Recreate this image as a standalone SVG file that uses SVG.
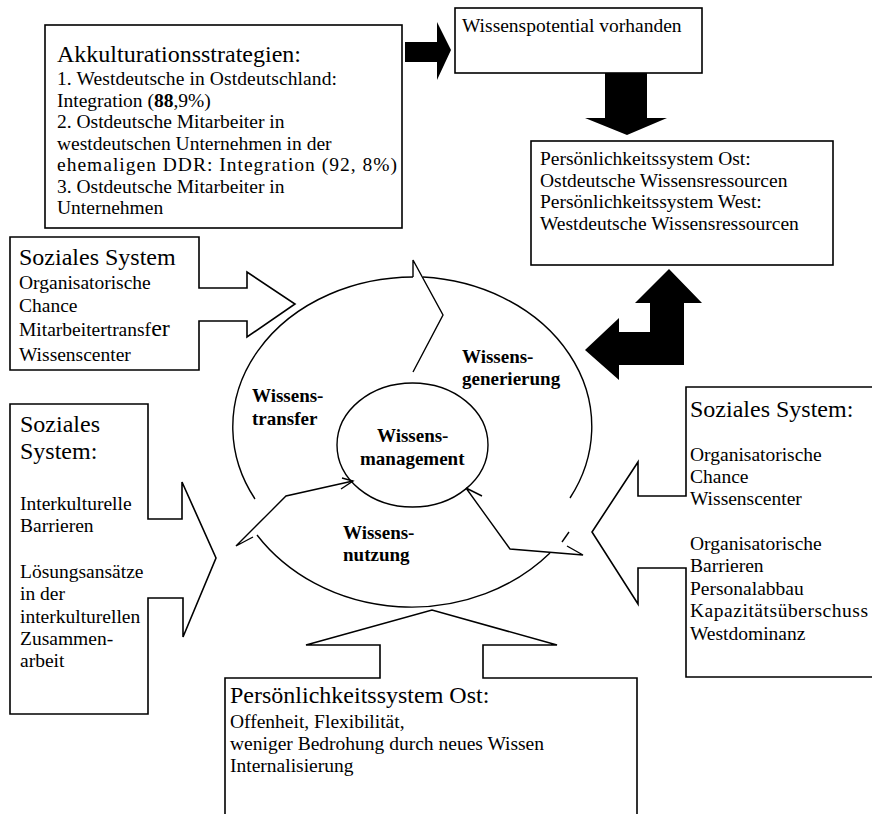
<svg xmlns="http://www.w3.org/2000/svg" width="872" height="814" viewBox="0 0 872 814">
<style>
.bx{fill:#fff;stroke:#000;stroke-width:1.6}
.ln{fill:none;stroke:#000;stroke-width:1.4;stroke-linejoin:miter}
.blk{fill:#000;stroke:none}
text{font-family:"Liberation Serif","Times New Roman",serif;fill:#000}
.t{font-size:19.5px}
.h{font-size:24px}
.b{font-size:19px;font-weight:bold}
</style>
<rect width="872" height="814" fill="#fff"/>
<g id="connectors">
  <polygon class="blk" points="405,42 437,42 437,22 451,50 437,80 437,62 405,62"/>
  <polygon class="blk" points="605,73 647,73 647,118 667,118 627,135 585,118 605,118"/>
  <polygon class="blk" points="669,269 702,303 684,303 684,365 619,365 619,380 585,350 619,318 619,332 650,332 650,303 635,303"/>
  <path class="ln" d="M255,499 A181,150 0 0 1 413,277"/>
  <polyline class="ln" points="413,277 413,260 443,315 413,372"/>
  <path class="ln" d="M423,277 A181,150 0 0 1 570,498"/>
  <path class="ln" d="M257,535 A187,165 0 0 0 550,553"/>
  <polyline class="ln" points="353,481 286,496 236,546 253,537"/>
  <polyline class="ln" points="341,489 353,481 342,478"/>
  <polyline class="ln" points="482,496 466,488 510,549 583,555 567,546"/>
  <line class="ln" x1="562" y1="542" x2="569" y2="532"/>
</g>
<g id="akkulturation">
  <rect class="bx" x="45" y="25" width="357" height="203"/>
  <text class="h" x="57" y="62">Akkulturationsstrategien:</text>
  <text class="t" x="57" y="85" textLength="280" lengthAdjust="spacing">1. Westdeutsche in Ostdeutschland:</text>
  <text class="t" x="57" y="106.5">Integration (<tspan font-weight="bold">88</tspan>,9%)</text>
  <text class="t" x="57" y="128">2. Ostdeutsche Mitarbeiter in</text>
  <text class="t" x="57" y="149.5">westdeutschen Unternehmen in der</text>
  <text class="t" x="57" y="171" textLength="340" lengthAdjust="spacing">ehemaligen DDR: Integration (92, 8%)</text>
  <text class="t" x="57" y="192.5">3. Ostdeutsche Mitarbeiter in</text>
  <text class="t" x="57" y="214">Unternehmen</text>
</g>
<g id="wissenspotential">
  <rect class="bx" x="455" y="8" width="247" height="65"/>
  <text class="t" x="462" y="32">Wissenspotential vorhanden</text>
</g>
<g id="persoenlichkeit-ost-west">
  <rect class="bx" x="531" y="141" width="302" height="124"/>
  <text class="t" x="540" y="165">Persönlichkeitssystem Ost:</text>
  <text class="t" x="540" y="186.5">Ostdeutsche Wissensressourcen</text>
  <text class="t" x="540" y="208">Persönlichkeitssystem West:</text>
  <text class="t" x="540" y="229.5">Westdeutsche Wissensressourcen</text>
</g>
<g id="soziales-system-1">
  <path class="bx" d="M10,237 H199 V288 H247 V272 L295,304 L247,337 V321 H199 V370 H10 Z"/>
  <text class="h" x="19" y="265">Soziales System</text>
  <text class="t" x="19" y="289">Organisatorische</text>
  <text class="t" x="19" y="312">Chance</text>
  <text class="t" x="19" y="336">Mitarbeitertransf<tspan font-size="24px">er</tspan></text>
  <text class="t" x="19" y="361">Wissenscenter</text>
</g>
<g id="soziales-system-2">
  <path class="bx" d="M10,404 H148 V519 H182 V482 L216,558 L183,637 V598 H148 V714 H10 Z"/>
  <text class="h" x="20" y="432">Soziales</text>
  <text class="h" x="20" y="459">System:</text>
  <text class="t" x="20" y="510">Interkulturelle</text>
  <text class="t" x="20" y="532"> Barrieren</text>
  <text class="t" x="20" y="578">Lösungsansätze</text>
  <text class="t" x="20" y="600">in der</text>
  <text class="t" x="20" y="623">interkulturellen</text>
  <text class="t" x="20" y="645">Zusammen-</text>
  <text class="t" x="20" y="667">arbeit</text>
</g>
<g id="soziales-system-3">
  <path class="bx" d="M686,387 H880 V677 H686 V568 H638 V604 L592,532 L638,462 V496 H686 Z"/>
  <text class="h" x="690" y="417">Soziales System:</text>
  <text class="t" x="690" y="461">Organisatorische</text>
  <text class="t" x="690" y="483">Chance</text>
  <text class="t" x="690" y="505">Wissenscenter</text>
  <text class="t" x="690" y="550">Organisatorische</text>
  <text class="t" x="690" y="572">Barrieren</text>
  <text class="t" x="690" y="595">Personalabbau</text>
  <text class="t" x="690" y="617" textLength="178" lengthAdjust="spacing">Kapazitätsüberschuss</text>
  <text class="t" x="690" y="640">Westdominanz</text>
</g>
<g id="persoenlichkeit-ost">
  <path class="bx" d="M225,830 V678 H380 V645 H306 L432,610 L557,645 H483 V678 H637 V830"/>
  <text class="h" x="230" y="703">Persönlichkeitssystem Ost:</text>
  <text class="t" x="230" y="728">Offenheit, Flexibilität,</text>
  <text class="t" x="230" y="750">weniger Bedrohung durch neues Wissen</text>
  <text class="t" x="230" y="772">Internalisierung</text>
</g>
<g id="wissensmanagement">
  <ellipse class="ln" cx="412.5" cy="445" rx="75.5" ry="62"/>
  <text class="b" x="377" y="442">Wissens-</text>
  <text class="b" x="360" y="465">management</text>
</g>
<g id="wissensgenerierung">
  <text class="b" x="462" y="363">Wissens-</text>
  <text class="b" x="462" y="385">generierung</text>
</g>
<g id="wissenstransfer">
  <text class="b" x="252" y="402">Wissens-</text>
  <text class="b" x="252" y="425">transfer</text>
</g>
<g id="wissensnutzung">
  <text class="b" x="343" y="539">Wissens-</text>
  <text class="b" x="343" y="561">nutzung</text>
</g>
</svg>
